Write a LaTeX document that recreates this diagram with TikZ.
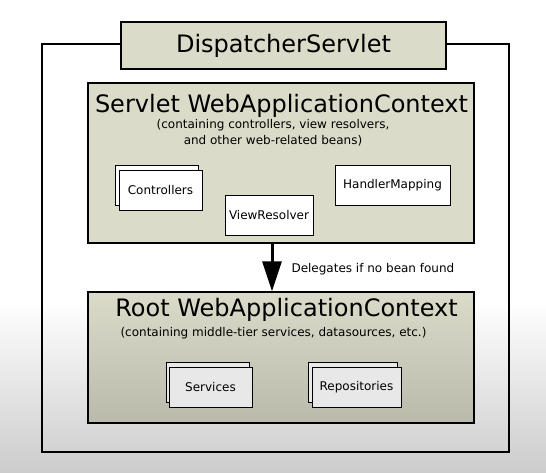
\documentclass[tikz,border=0pt]{standalone}
\usepackage{fontspec}
\setmainfont{DejaVu Sans}
\usetikzlibrary{arrows.meta,positioning}
\definecolor{ctxfill}{RGB}{218,219,201}

\begin{document}
\begin{tikzpicture}[x=1pt,y=-1pt,
  ctxbox/.style={draw,line width=1.4pt,fill=ctxfill,inner sep=0pt},
  bean/.style={draw,line width=.8pt,fill=white,minimum height=40pt,inner sep=0pt,
    font=\fontsize{12}{14}\selectfont},
  rootbean/.style={bean,fill=black!9},
  title/.style={anchor=base,font=\fontsize{24}{28}\selectfont},
  note/.style={font=\fontsize{12}{16}\selectfont,align=center},
  delegate/.style={-{Triangle[length=30pt,width=19pt]},line width=3pt}]

  \useasboundingbox (0,0) rectangle (546,473);
  \fill[white] (0,0) rectangle (546,473);
  \shade[top color=white,bottom color=black!20] (0,300) rectangle (546,473);

  % dispatcher servlet frame
  \draw[line width=1.5pt] (42,44) rectangle (509,452);
  \node[ctxbox,minimum width=325pt,minimum height=47pt,font=\fontsize{24}{28}\selectfont]
    (ds) at (283.5,45.5) {DispatcherServlet};

  % servlet context
  \node[ctxbox,minimum width=386pt,minimum height=160pt] (servlet) at (281,163) {};
  \node[title] (servlettitle) at (281.5,113) {Servlet WebApplicationContext};
  \node[note] (servletnote) at (273,133) {(containing controllers, view resolvers,\\and other web-related beans)};

  \node[bean,minimum width=83pt] (ctrlback) at (156.5,185) {};
  \node[bean,minimum width=83pt] (ctrl) at (160.5,190) {Controllers};
  \node[bean,minimum width=88pt] (viewres) at (269,215) {ViewResolver};
  \node[bean,minimum width=115pt] (handler) at (392.5,185) {HandlerMapping};

  % root context
  \node[ctxbox,top color=ctxfill,bottom color=ctxfill!85!black,
    minimum width=386pt,minimum height=131pt] (root) at (281,357.5) {};
  \node[title] (roottitle) at (286.5,316) {Root WebApplicationContext};
  \node[note,anchor=base] (rootnote) at (273.5,336) {(containing middle-tier services, datasources, etc.)};

  \node[rootbean,minimum width=83pt] (servback) at (207.5,382) {};
  \node[rootbean,minimum width=83pt] (serv) at (210.5,387) {Services};
  \node[rootbean,minimum width=89pt] (repoback) at (353,382) {};
  \node[rootbean,minimum width=89pt] (repo) at (356.5,387) {Repositories};

  \draw[delegate] ([xshift=-9pt]servlet.south) -- ([xshift=-9pt]root.north);
  \node[anchor=base west,font=\fontsize{12}{14}\selectfont] (delegatelabel) at (288,272) {Delegates if no bean found};
\end{tikzpicture}
\end{document}
